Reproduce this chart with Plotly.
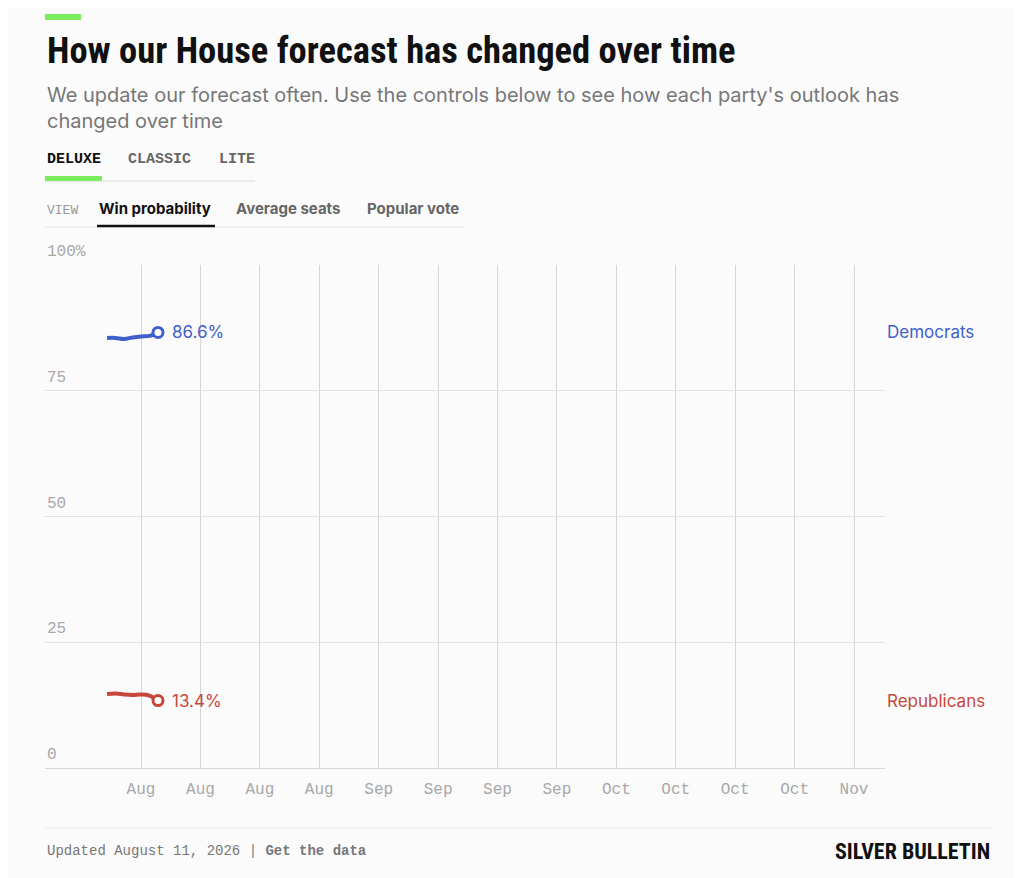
import plotly.graph_objects as go

# data
dates = ["2026-08-05", "2026-08-06", "2026-08-07", "2026-08-08", "2026-08-09", "2026-08-10", "2026-08-11"]
dem = [85.5, 85.5, 85.3, 85.6, 85.8, 85.9, 86.6]
rep = [14.7, 14.8, 14.6, 14.5, 14.6, 14.4, 13.4]
tick_dates = ["2026-08-09", "2026-08-16", "2026-08-23", "2026-08-30", "2026-09-06", "2026-09-13",
              "2026-09-20", "2026-09-27", "2026-10-04", "2026-10-11", "2026-10-18", "2026-10-25", "2026-11-01"]
tick_text = ["Aug", "Aug", "Aug", "Aug", "Sep", "Sep", "Sep", "Sep", "Oct", "Oct", "Oct", "Oct", "Nov"]
y_ticks = [0, 25, 50, 75, 100]
y_text = ["0", "25", "50", "75", "100%"]

# the page puts the figure 8px in from the corner, so work in screen pixels and shift
OFF = 8
W, H = 1022 - OFF, 878 - OFF
L, R, T, B = 45 - OFF, 885 - OFF, 265 - OFF, 768 - OFF
BLUE = "#3f5fcc"
RED = "#c8473b"
GRID = "#dcd6d2"
MONO = "Liberation Mono, DejaVu Sans Mono, monospace"
SANS = "Inter, Roboto, sans-serif"
NARROW = "Liberation Sans Narrow, Roboto Condensed, Arial Narrow, sans-serif"


def px(x):
    return (x - OFF - L) / (R - L)


def py(y):
    return (B - (y - OFF)) / (B - T)


def label(x, y, text, font):
    return dict(x=px(x), y=py(y), xref="paper", yref="paper", text=text, showarrow=False,
                xanchor="left", yanchor="middle", align="left", font=font)


fig = go.Figure()
fig.add_trace(go.Scatter(x=dates, y=dem, mode="lines", line=dict(color=BLUE, width=4, shape="spline"),
                         hoverinfo="skip"))
fig.add_trace(go.Scatter(x=dates, y=rep, mode="lines", line=dict(color=RED, width=4, shape="spline"),
                         hoverinfo="skip"))
for series, col in [(dem, BLUE), (rep, RED)]:
    fig.add_trace(go.Scatter(x=[dates[-1]], y=[series[-1]], mode="markers",
                             marker=dict(size=10, color="white", line=dict(color=col, width=3)),
                             hoverinfo="skip"))

ann = []
for series, col in [(dem, BLUE), (rep, RED)]:
    ann.append(dict(x=dates[-1], y=series[-1], xref="x", yref="y", text="%.1f%%" % series[-1], showarrow=False,
                    xanchor="left", xshift=12, font=dict(color=col, size=17, family=SANS)))
for v, t in zip(y_ticks, y_text):
    ann.append(dict(x=0, y=v, xref="paper", yref="y", text=t, showarrow=False, xanchor="left", yanchor="bottom",
                    yshift=2, font=dict(family=MONO, size=16, color="#a8a8a8")))
ann += [
    dict(x=1, y=dem[-1], xref="paper", yref="y", text="Democrats", showarrow=False, xanchor="left",
         font=dict(family=SANS, size=17, color=BLUE)),
    dict(x=1, y=rep[-1], xref="paper", yref="y", text="Republicans", showarrow=False, xanchor="left",
         font=dict(family=SANS, size=17, color=RED)),
    label(45, 50, "<b>How our House forecast has changed over time</b>",
          dict(family=NARROW, size=36.5, color="#111")),
    label(45, 108, "We update our forecast often. Use the controls below to see how each party's outlook has"
                   "<br>changed over time", dict(family=SANS, size=20, color="#777")),
    label(45, 159, "<b>DELUXE</b>", dict(family=MONO, size=15, color="#111")),
    label(126, 159, "<b>CLASSIC</b>", dict(family=MONO, size=15, color="#666")),
    label(217, 159, "<b>LITE</b>", dict(family=MONO, size=15, color="#666")),
    label(45, 210, "VIEW", dict(family=MONO, size=13, color="#999")),
    label(97, 209, "<b>Win probability</b>", dict(family=SANS, size=15, color="#111")),
    label(234, 209, "<b>Average seats</b>", dict(family=SANS, size=15, color="#666")),
    label(365, 209, "<b>Popular vote</b>", dict(family=SANS, size=15, color="#666")),
    label(45, 851, "Updated August 11, 2026 | <b>Get the data</b>", dict(family=MONO, size=14, color="#777")),
    dict(x=px(992), y=py(851), xref="paper", yref="paper", text="<b>SILVER BULLETIN</b>", showarrow=False,
         xanchor="right", yanchor="middle", font=dict(family=NARROW, size=22, color="#111")),
]

shapes = [
    dict(type="rect", xref="paper", yref="paper", x0=px(45), x1=px(81), y0=py(14), y1=py(20),
         fillcolor="#7deb5e", line_width=0),
    dict(type="line", xref="paper", yref="paper", x0=px(45), x1=px(255), y0=py(181), y1=py(181),
         line=dict(color="#e6e6e6", width=1.5)),
    dict(type="rect", xref="paper", yref="paper", x0=px(45), x1=px(102), y0=py(176), y1=py(181),
         fillcolor="#7deb5e", line_width=0),
    dict(type="line", xref="paper", yref="paper", x0=px(45), x1=px(465), y0=py(227), y1=py(227),
         line=dict(color="#e6e6e6", width=1)),
    dict(type="line", xref="paper", yref="paper", x0=px(97), x1=px(215), y0=py(226), y1=py(226),
         line=dict(color="#111", width=2.5)),
    dict(type="line", xref="paper", yref="paper", x0=px(45), x1=px(992), y0=py(828), y1=py(828),
         line=dict(color="#ececec", width=1)),
]

fig.update_layout(
    width=W, height=H,
    margin=dict(l=L, r=W - R, t=T, b=H - B),
    paper_bgcolor="#fbfbfb", plot_bgcolor="#fbfbfb",
    showlegend=False,
    annotations=ann, shapes=shapes,
    xaxis=dict(type="date", range=["2026-07-28 16:30", "2026-11-04 15:40"], tickvals=tick_dates,
               ticktext=tick_text, showgrid=True, gridcolor=GRID, gridwidth=1, zeroline=False, ticks="",
               showline=True, linecolor=GRID, tickfont=dict(family=MONO, size=16, color="#a8a8a8"),
               ticklabelstandoff=6),
    yaxis=dict(range=[0, 100], tickvals=y_ticks, showticklabels=False, showgrid=True, gridcolor="#e6e2df",
               zeroline=False, fixedrange=True),
)

fig.write_html("out.html")
